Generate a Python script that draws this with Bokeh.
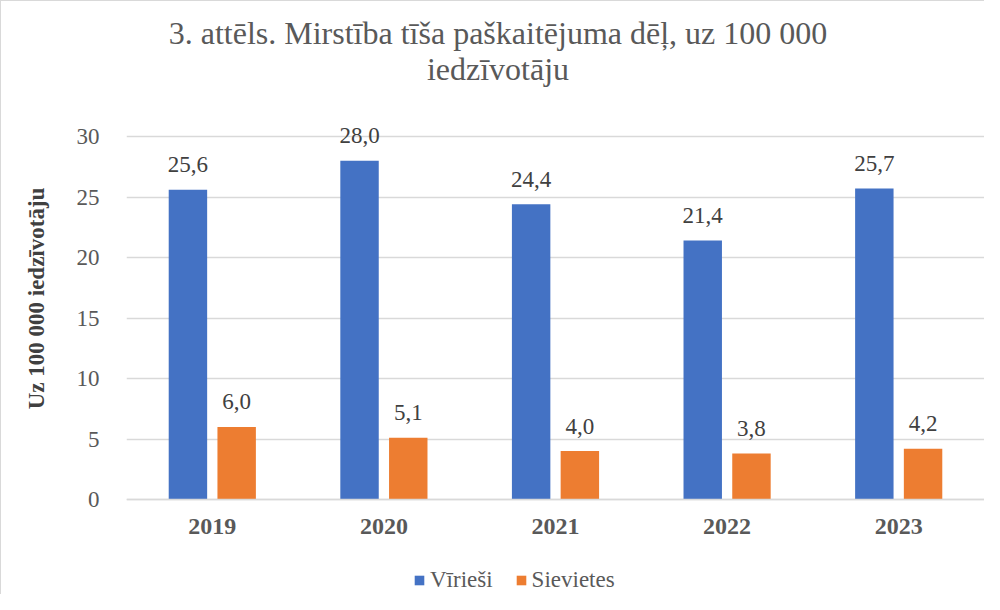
from bokeh.plotting import figure
from bokeh.models import (FactorRange, ColumnDataSource, Label, Legend, LegendItem,
                          FixedTicker, Range1d)
from bokeh.transform import dodge
from bokeh.core.properties import value
from bokeh.embed import file_html
from bokeh.resources import INLINE

years = ["2019", "2020", "2021", "2022", "2023"]
men = [25.6, 28.0, 24.4, 21.4, 25.7]
women = [6.0, 5.1, 4.0, 3.8, 4.2]
series_names = ["Vīrieši", "Sievietes"]
title_lines = ["3. attēls. Mirstība tīša paškaitējuma dēļ, uz 100 000", "iedzīvotāju"]
y_title = "Uz 100 000 iedzīvotāju"
y_ticks = [0, 5, 10, 15, 20, 25, 30]

FONT = "Liberation Serif"
BLUE = "#4472C4"
ORANGE = "#ED7D31"
GREY = "#595959"
DARK = "#404040"
GRID = "#d9d9d9"

W, H = 984, 594
FRAME_L, FRAME_R = 125, 983          # plot area edges (px)
Y0_PX, Y30_PX = 498, 135             # pixel rows of value 0 and 30
ppu = (Y0_PX - Y30_PX) / 30.0
y_start = -(H - Y0_PX) / ppu
y_end = Y0_PX / ppu

fmt = lambda v: f"{v:.1f}".replace(".", ",")
src = ColumnDataSource(dict(
    year=years, men=men, women=women,
    men_lbl=[fmt(v) for v in men], women_lbl=[fmt(v) for v in women],
))

p = figure(x_range=FactorRange(*years), y_range=Range1d(y_start, y_end),
           width=W, height=H, output_backend="svg", toolbar_location=None,
           min_border_left=FRAME_L, min_border_right=W - FRAME_R,
           min_border_top=0, min_border_bottom=0)
p.styles = {"border-left": "1px solid #d9d9d9", "border-top": "1px solid #d9d9d9"}
p.outline_line_color = None
p.background_fill_color = "white"
p.border_fill_color = "white"

off = 0.142
bw = 0.224
r1 = p.vbar(x=dodge("year", -off, range=p.x_range), top="men", width=bw,
            source=src, fill_color=BLUE, line_color=None)
r2 = p.vbar(x=dodge("year", off, range=p.x_range), top="women", width=bw,
            source=src, fill_color=ORANGE, line_color=None)

common = dict(text_font=value(FONT), text_font_size="23px", text_color=DARK,
              text_align="center", text_baseline="alphabetic", y_offset=-25)
p.text(x=dodge("year", -off, range=p.x_range), y="men", text="men_lbl", source=src, **common)
p.text(x=dodge("year", off, range=p.x_range), y="women", text="women_lbl", source=src, **common)

# axes
p.yaxis.ticker = FixedTicker(ticks=y_ticks)
p.yaxis.axis_line_color = None
p.yaxis.major_tick_line_color = None
p.yaxis.minor_tick_line_color = None
p.yaxis.major_label_standoff = 21
p.yaxis.major_label_text_font = FONT
p.yaxis.major_label_text_font_size = "23px"
p.yaxis.major_label_text_color = GREY
p.yaxis.axis_label = y_title
p.yaxis.axis_label_standoff = 25
p.yaxis.axis_label_text_font = FONT
p.yaxis.axis_label_text_font_size = "23px"
p.yaxis.axis_label_text_font_style = "bold"
p.yaxis.axis_label_text_color = DARK

p.xaxis.fixed_location = 0
p.xaxis.axis_line_color = GRID
p.xaxis.axis_line_width = 1.5
p.xaxis.major_tick_line_color = None
p.xaxis.minor_tick_line_color = None
p.xaxis.major_label_standoff = 13
p.xaxis.major_label_text_font = FONT
p.xaxis.major_label_text_font_size = "24px"
p.xaxis.major_label_text_font_style = "bold"
p.xaxis.major_label_text_color = GREY

p.xgrid.grid_line_color = None
p.ygrid.ticker = FixedTicker(ticks=y_ticks)
p.ygrid.grid_line_color = GRID
p.ygrid.grid_line_width = 1.5

# title (two centred lines), positions in px from frame bottom-left
for txt, base in zip(title_lines, [31, 67]):
    p.add_layout(Label(x=371.5, y=H - base, x_units="screen", y_units="screen", text=txt,
                       text_font=FONT, text_font_size="32px", text_color=GREY,
                       text_align="center", text_baseline="alphabetic"))

legend = Legend(items=[LegendItem(label=series_names[0], renderers=[r1]),
                       LegendItem(label=series_names[1], renderers=[r2])],
                location=(412 - FRAME_L, 2), orientation="horizontal",
                glyph_width=12, glyph_height=12, label_standoff=5, spacing=22,
                padding=0, margin=0, border_line_color=None,
                background_fill_alpha=0,
                label_text_font=FONT, label_text_font_size="23px",
                label_text_color=GREY)
p.add_layout(legend)

open("out.html", "w").write(file_html(p, INLINE))
